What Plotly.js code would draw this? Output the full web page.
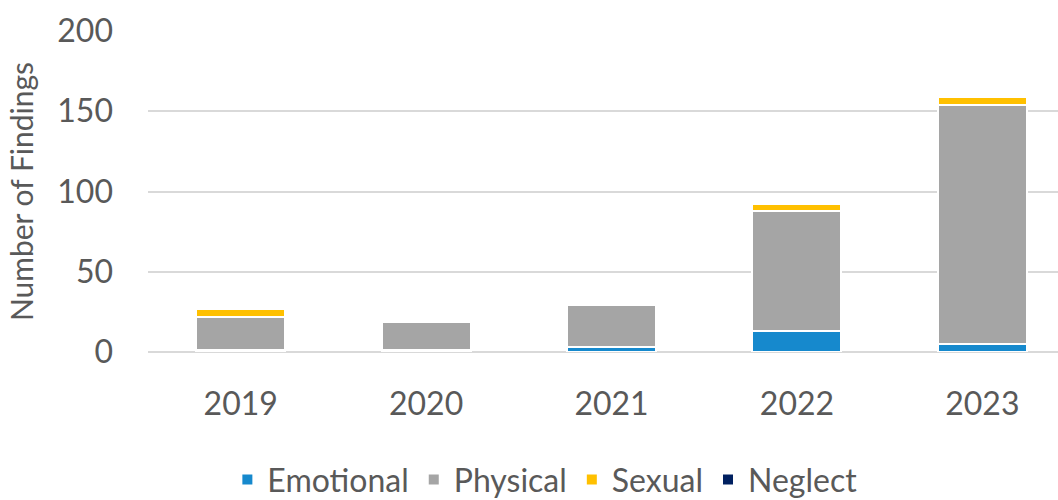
<!DOCTYPE html>
<html><head><meta charset="utf-8">
<script src="https://cdn.plot.ly/plotly-3.0.1.min.js"></script>
<style>html,body{margin:0;padding:0;background:#fff}#chart{width:1058px;height:500px}</style>
</head><body><div id="chart"></div>
<script>
const years = ["2019","2020","2021","2022","2023"];
const emotional = [1, 1, 3, 13, 5];
const physical = [21, 18, 26, 75, 149];
const sexual = [5, 0, 0, 4, 5];
const neglect = [0, 0, 0, 0, 0];
const yTicks = [0, 50, 100, 150, 200];

const font = "Lato, 'Open Sans', sans-serif";
const line = {color: "#ffffff", width: 2};
const traces = [
  {name: "Emotional", y: emotional, color: "#1689CD"},
  {name: "Physical", y: physical, color: "#A5A5A5"},
  {name: "Sexual", y: sexual, color: "#FFC000"},
  {name: "Neglect", y: neglect, color: "#002060"}
].map(s => ({type: "bar", name: s.name, x: years, y: s.y,
  marker: {color: s.color, line: line}, hoverinfo: "skip"}));

const layout = {
  width: 1058, height: 500,
  margin: {l: 148, r: 0, t: 31, b: 148, autoexpand: false},
  barmode: "stack", bargap: 0.52,
  paper_bgcolor: "#fff", plot_bgcolor: "#fff",
  font: {family: font, color: "#595959", size: 30},
  xaxis: {type: "category", range: [-0.5, 4.408], showgrid: false, showline: false,
    ticks: "", tickfont: {size: 32, color: "#595959"}, ticklabelstandoff: 30, tickangle: 0},
  yaxis: {range: [0, 200], tickvals: yTicks, ticktext: yTicks.map(String),
    showgrid: true, gridcolor: "#d9d9d9", gridwidth: 2,
    zeroline: true, zerolinecolor: "#d9d9d9", zerolinewidth: 2,
    showline: false, ticks: "", tickfont: {size: 32, color: "#595959"}, ticklabelstandoff: 34,
    title: {text: "Number of Findings", font: {size: 30, color: "#595959"}, standoff: 14}},
  legend: {orientation: "h", x: 0.515, xref: "container", xanchor: "center",
    y: -0.398, yref: "paper", yanchor: "middle",
    font: {size: 32, color: "#595959"}, traceorder: "normal", itemwidth: 30},
  showlegend: true
};
Plotly.newPlot("chart", traces, layout, {displayModeBar: false, staticPlot: true});
</script></body></html>
